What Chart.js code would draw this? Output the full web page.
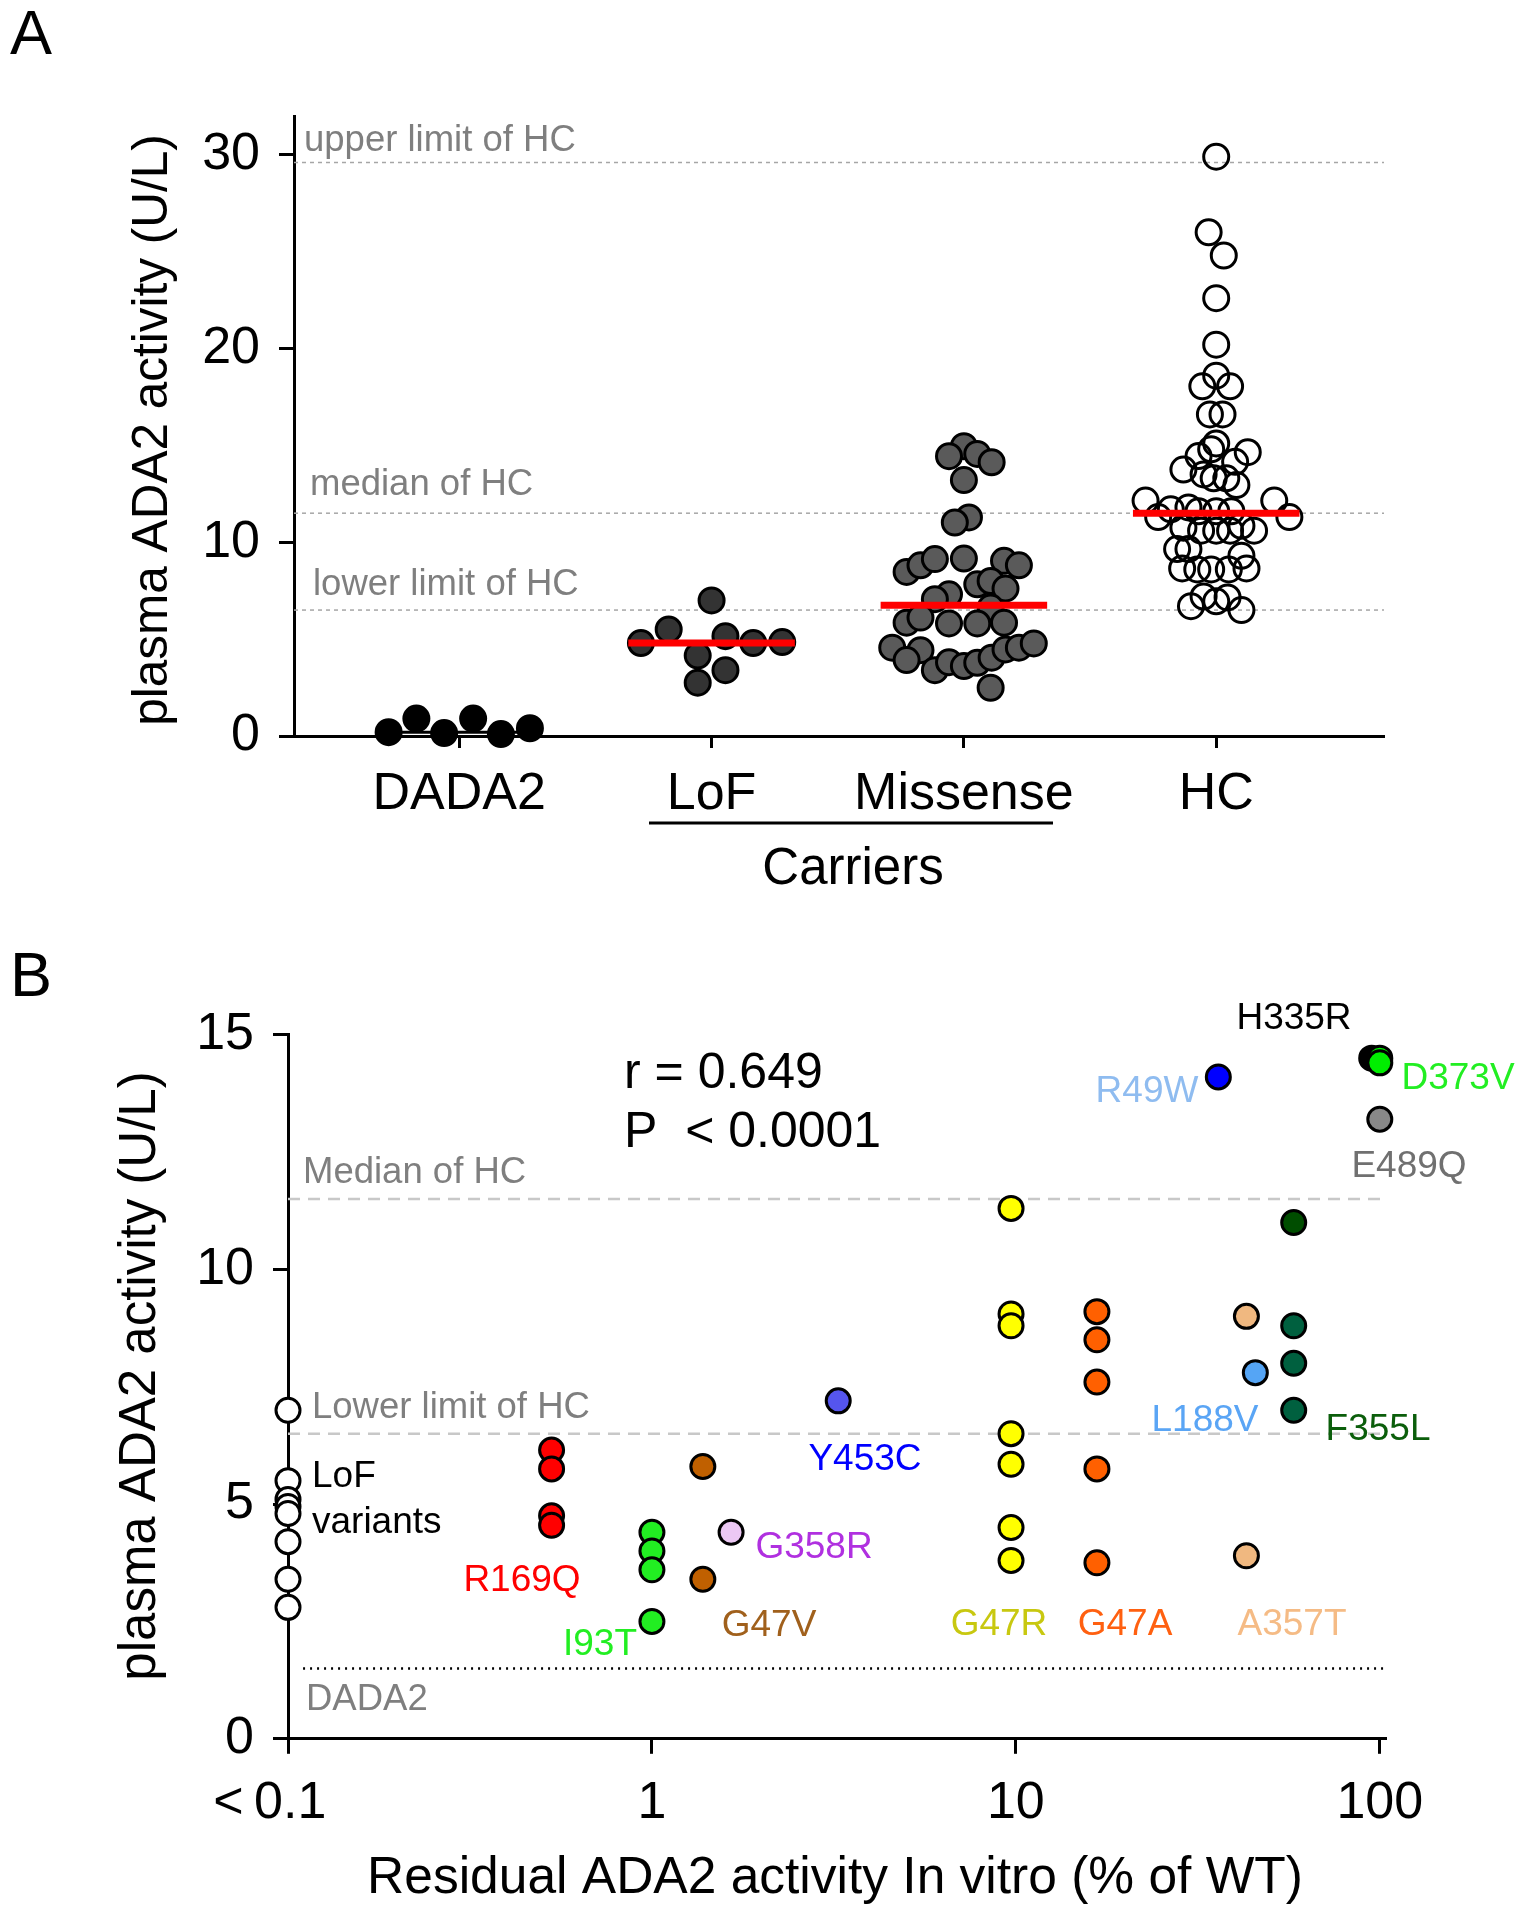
<!DOCTYPE html>
<html>
<head>
<meta charset="utf-8">
<script src="https://cdn.jsdelivr.net/npm/chart.js@4.4.1/dist/chart.umd.min.js"></script>
<style>
  html, body { margin: 0; padding: 0; background: #fff; }
  #wrapA { position: absolute; left: 0; top: 0; }
  #wrapB { position: absolute; left: 0; top: 940px; }
</style>
</head>
<body>
<div id="wrapA"><canvas id="panelA" width="1527" height="940"></canvas></div>
<div id="wrapB"><canvas id="panelB" width="1527" height="980"></canvas></div>
<script>
// ---- panel A data ----
const groupsA = ['DADA2', 'LoF', 'Missense', 'HC'];
const yTicksA = [0, 10, 20, 30];
const dada2Act = [0.2, 0.9, 0.15, 0.9, 0.1, 0.4];
const dada2Swarm = [-0.28, -0.17, -0.06, 0.055, 0.165, 0.28];
const lofAct = [4.8, 5.5, 7.0, 4.15, 2.75, 5.15, 3.4, 4.8, 4.85];
const lofSwarm = [-0.28, -0.17, 0, -0.055, -0.055, 0.055, 0.055, 0.165, 0.28];
const missAct = [14.96, 14.44, 14.56, 14.13, 13.21, 11.28, 11.02, 8.47, 8.81, 9.13, 9.16, 9.04, 8.81,
  7.83, 8.0, 7.61, 7.31, 7.06, 6.63, 5.85, 6.11, 5.81, 5.81, 5.85, 4.56, 4.43, 3.92, 3.4, 3.81,
  3.61, 3.78, 4.04, 4.47, 4.56, 4.78, 2.49];
const missSwarm = [0, -0.059, 0.053, 0.11, 0, 0.02, -0.036, -0.227, -0.172, -0.115, 0, 0.159, 0.218,
  0.053, 0.106, 0.165, -0.059, -0.115, 0.106, -0.227, -0.172, -0.059, 0.053, 0.159, -0.284, -0.172,
  -0.227, -0.115, -0.059, 0, 0.053, 0.11, 0.165, 0.218, 0.277, 0.106];
const hcAct = [29.9, 26.0, 24.8, 22.6, 20.2, 18.6, 18.05, 18.05, 16.6, 16.6, 15.1, 14.8, 14.65, 14.45,
  14.15, 13.75, 13.5, 13.3, 13.3, 12.95, 12.15, 12.15, 11.8, 11.7, 11.6, 11.6, 11.6, 11.3, 11.3,
  10.85, 10.75, 10.6, 10.6, 10.6, 10.6, 9.65, 9.65, 9.3, 8.65, 8.6, 8.6, 8.6, 8.65, 7.2, 7.15,
  6.95, 6.7, 6.5];
const hcSwarm = [0, -0.03, 0.03, 0, 0, 0, -0.055, 0.055, -0.025, 0.025, 0, -0.02, 0.125, -0.07,
  0.075, -0.13, -0.05, 0.04, -0.01, 0.08, -0.28, 0.23, -0.11, -0.18, -0.07, 0, 0.06, -0.23, 0.29,
  0.10, -0.13, -0.06, 0, 0.055, 0.15, -0.155, -0.11, 0.10, -0.135, -0.075, -0.02, 0.05, 0.12, -0.05,
  0.045, 0, -0.10, 0.10];
const groupMedians = [0.2, 4.8, 6.75, 11.5];
const hcUpper = 29.6;
const hcMedian = 11.5;
const hcLower = 6.5;

// ---- panel B data ----
const xTicksB = [0.1, 1, 10, 100];
const yTicksB = [0, 5, 10, 15];
const variants = ['LoF', 'R169Q', 'I93T', 'G47V', 'G358R', 'Y453C', 'G47R', 'G47A', 'A357T',
  'L188V', 'F355L', 'R49W', 'H335R', 'D373V', 'E489Q'];
const residual = [0.1, 0.53, 1, 1.38, 1.65, 3.25, 9.7, 16.7, 43, 45.5, 58, 36, 95, 100, 100];
const plasmaB = [
  [7.0, 5.5, 5.1, 4.95, 4.8, 4.2, 3.4, 2.8],
  [6.15, 5.75, 4.75, 4.55],
  [4.4, 4.0, 3.6, 2.5],
  [5.8, 3.4],
  [4.4],
  [7.2],
  [11.3, 9.05, 8.8, 6.5, 5.85, 4.5, 3.8],
  [9.1, 8.5, 7.6, 5.75, 3.75],
  [9.0, 3.9],
  [7.8],
  [11.0, 8.8, 8.0, 7.0],
  [14.1],
  [14.5],
  [14.5, 14.4],
  [13.2]
];
const dada2Level = 1.5;
const corrR = '0.649';
const corrP = '< 0.0001';

// ---- styles ----
const FONT = "'Liberation Sans', Arial, Helvetica, sans-serif";
const fillA = ['#000000', '#333333', '#5a5a5a', 'rgba(0,0,0,0)'];
const fillB = {
  'LoF': '#ffffff', 'R169Q': '#ff0000', 'I93T': '#22ee22', 'G47V': '#c06000', 'G358R': '#ecc8f4',
  'Y453C': '#5555ee', 'G47R': '#ffff00', 'G47A': '#ff6000', 'A357T': '#f0b880', 'L188V': '#55a5f5',
  'F355L': ['#004d00', '#00603f', '#00603f', '#00603f'], 'R49W': '#0000ff', 'H335R': '#000000',
  'D373V': '#00ee00', 'E489Q': '#888888'
};
const labelB = [
  ['H335R', 1294, 79, '#000000'], ['R49W', 1147, 152, '#8fbcf0'], ['D373V', 1458, 139, '#22ee22'],
  ['E489Q', 1409, 227, '#707070'], ['L188V', 1205, 481, '#5aa5f5'], ['F355L', 1378, 490, '#0b5e0b'],
  ['Y453C', 865, 520, '#0000ff'], ['G358R', 814, 608, '#b030e0'], ['R169Q', 522, 641, '#ff0000'],
  ['G47V', 769, 686, '#a0601c'], ['I93T', 600, 705, '#22ee22'], ['G47R', 999, 685, '#c8c810'],
  ['G47A', 1125, 685, '#ff6010'], ['A357T', 1292, 685, '#f5bb85']
];

function hline(y, x0, x1, color, width, dash, order) {
  return {
    type: 'line', data: [{x: x0, y: y}, {x: x1, y: y}], borderColor: color, borderWidth: width,
    borderDash: dash, pointRadius: 0, fill: false, clip: false, order: order
  };
}

function swarm(vals, offs, idx) {
  return vals.map((v, i) => ({x: idx + offs[i], y: v}));
}

function txt(ctx, s, x, y, size, color, align) {
  ctx.save();
  ctx.font = size + 'px ' + FONT;
  ctx.fillStyle = color;
  ctx.textAlign = align || 'left';
  ctx.textBaseline = 'middle';
  ctx.fillText(s, x, y);
  ctx.restore();
}

Chart.defaults.font.family = FONT;

// ---------------- Panel A ----------------
const actA = [dada2Act, lofAct, missAct, hcAct];
const swarmA = [dada2Swarm, lofSwarm, missSwarm, hcSwarm];
const dsA = [];
groupMedians.forEach((m, i) => {
  dsA.push(hline(m, i - 0.33, i + 0.33, i === 0 ? '#000000' : '#ff0000', i === 0 ? 3 : 7, [], 0));
});
actA.forEach((vals, i) => {
  dsA.push({
    type: 'scatter', data: swarm(vals, swarmA[i], i), backgroundColor: fillA[i],
    borderColor: '#000000', borderWidth: 3, pointRadius: 12.5, pointHoverRadius: 12.5,
    clip: false, order: 1
  });
});
[hcUpper, hcMedian, hcLower].forEach(v => dsA.push(hline(v, -0.655, 3.665, '#a6a6a6', 1.5, [4, 4], 2)));

const textA = {
  id: 'textA',
  afterDraw(chart) {
    const ctx = chart.ctx;
    const y = chart.scales.y;
    txt(ctx, 'A', 10, 37, 63, '#000');
    txt(ctx, 'upper limit of HC', 304, y.getPixelForValue(hcUpper) - 22, 36.5, '#7f7f7f');
    txt(ctx, 'median of HC', 310, y.getPixelForValue(hcMedian) - 28, 36.5, '#7f7f7f');
    txt(ctx, 'lower limit of HC', 313, y.getPixelForValue(hcLower) - 25, 36.5, '#7f7f7f');
    ctx.save();
    ctx.translate(153, 430);
    ctx.rotate(-Math.PI / 2);
    txt(ctx, 'plasma ADA2 activity (U/L)', 0, 0, 49.5, '#000', 'center');
    ctx.restore();
    ctx.save();
    ctx.strokeStyle = '#000';
    ctx.lineWidth = 3;
    ctx.beginPath();
    ctx.moveTo(649, 823);
    ctx.lineTo(1053, 823);
    ctx.stroke();
    ctx.restore();
    txt(ctx, 'Carriers', 853, 870, 51, '#000', 'center');
  }
};

new Chart(document.getElementById('panelA'), {
  type: 'scatter',
  data: {datasets: dsA},
  options: {
    responsive: false, animation: false, events: [],
    plugins: {legend: {display: false}, tooltip: {enabled: false}},
    layout: {padding: {left: 0, right: 143, top: 116, bottom: 0}},
    scales: {
      x: {
        type: 'linear', min: -0.655, max: 3.665,
        afterBuildTicks: s => { s.ticks = groupsA.map((g, i) => ({value: i})); },
        afterFit: s => { s.height = 204; },
        ticks: {
          callback: v => groupsA[Math.round(v)], color: '#000', padding: 15,
          font: {size: 52, lineHeight: 1.2}, autoSkip: false, maxRotation: 0
        },
        grid: {drawOnChartArea: false, drawTicks: true, tickLength: 12, tickWidth: 3, color: '#000', tickColor: '#000'},
        border: {display: true, color: '#000', width: 3}
      },
      y: {
        min: 0, max: 32,
        afterBuildTicks: s => { s.ticks = yTicksA.map(v => ({value: v})); },
        afterFit: s => { s.width = 294; },
        ticks: {color: '#000', padding: 19, font: {size: 52, lineHeight: 1.2}},
        grid: {drawOnChartArea: false, drawTicks: true, tickLength: 15, tickWidth: 3, color: '#000', tickColor: '#000'},
        border: {display: true, color: '#000', width: 3}
      }
    }
  },
  plugins: [textA]
});

// ---------------- Panel B ----------------
const dsB = [];
variants.forEach((name, i) => {
  dsB.push({
    type: 'scatter', label: name,
    data: plasmaB[i].map(v => ({x: residual[i], y: v})),
    backgroundColor: fillB[name], borderColor: '#000000', borderWidth: 3,
    pointRadius: 12, pointHoverRadius: 12, clip: false, order: 50 - i
  });
});
dsB.push(hline(hcMedian, 0.1, 104, '#c8c8c8', 2.5, [12, 8], 100));
dsB.push(hline(hcLower, 0.1, 104, '#c8c8c8', 2.5, [12, 8], 100));
dsB.push(hline(dada2Level, 0.11, 104, '#000000', 2.5, [2, 5], 100));

const textB = {
  id: 'textB',
  afterDraw(chart) {
    const ctx = chart.ctx;
    const y = chart.scales.y;
    txt(ctx, 'B', 10, 39, 63, '#000');
    txt(ctx, 'r = ' + corrR, 624, 134, 50, '#000');
    txt(ctx, 'P  ' + corrP, 624, 193, 50, '#000');
    txt(ctx, 'Median of HC', 303, y.getPixelForValue(hcMedian) - 26, 36.5, '#7f7f7f');
    txt(ctx, 'Lower limit of HC', 312, y.getPixelForValue(hcLower) - 26, 36.5, '#7f7f7f');
    txt(ctx, 'DADA2', 306, y.getPixelForValue(dada2Level) + 32, 36.5, '#7f7f7f');
    txt(ctx, 'LoF', 312, 537, 37, '#000');
    txt(ctx, 'variants', 312, 583, 37, '#000');
    labelB.forEach(l => txt(ctx, l[0], l[1], l[2], 37, l[3], 'center'));
    ctx.save();
    ctx.translate(141, 436);
    ctx.rotate(-Math.PI / 2);
    txt(ctx, 'plasma ADA2 activity (U/L)', 0, 0, 51, '#000', 'center');
    ctx.restore();
    txt(ctx, 'Residual ADA2 activity In vitro (% of WT)', 835, 939, 51.5, '#000', 'center');
  }
};

new Chart(document.getElementById('panelB'), {
  type: 'scatter',
  data: {datasets: dsB},
  options: {
    responsive: false, animation: false, events: [],
    plugins: {legend: {display: false}, tooltip: {enabled: false}},
    layout: {padding: {left: 0, right: 141, top: 94.7, bottom: 0}},
    scales: {
      x: {
        type: 'logarithmic', min: 0.1, max: 104,
        afterBuildTicks: s => { s.ticks = xTicksB.map(v => ({value: v})); },
        afterFit: s => { s.height = 181.2; },
        ticks: {
          callback: v => (v === 0.1 ? '<\u20090.1\u2002\u2009' : String(v)), color: '#000', padding: 19,
          font: {size: 52, lineHeight: 1.2}, autoSkip: false, maxRotation: 0
        },
        grid: {drawOnChartArea: false, drawTicks: true, tickLength: 15, tickWidth: 3, color: '#000', tickColor: '#000'},
        border: {display: true, color: '#000', width: 3}
      },
      y: {
        min: 0, max: 15,
        afterBuildTicks: s => { s.ticks = yTicksB.map(v => ({value: v})); },
        afterFit: s => { s.width = 288; },
        ticks: {color: '#000', padding: 19, font: {size: 52, lineHeight: 1.2}},
        grid: {drawOnChartArea: false, drawTicks: true, tickLength: 15, tickWidth: 3, color: '#000', tickColor: '#000'},
        border: {display: true, color: '#000', width: 3}
      }
    }
  },
  plugins: [textB]
});
</script>
</body>
</html>
